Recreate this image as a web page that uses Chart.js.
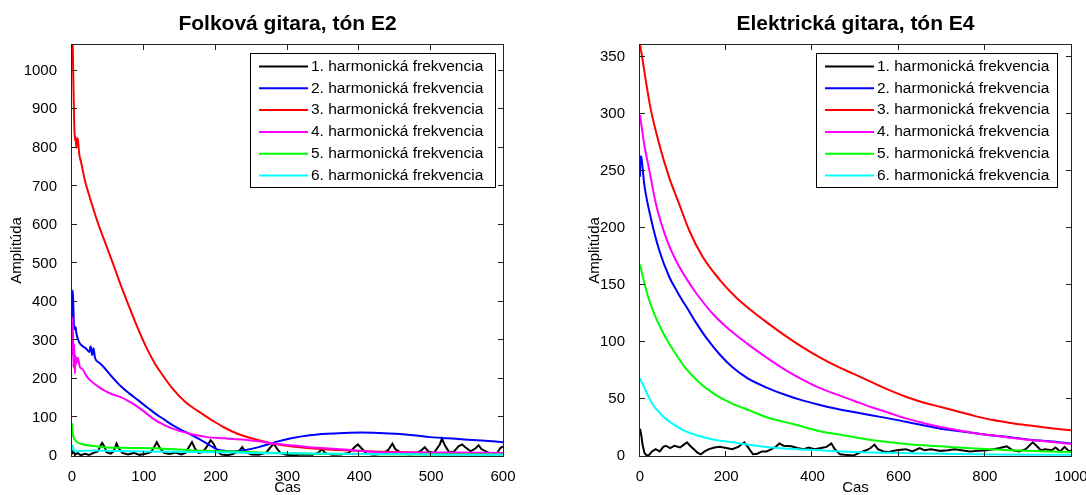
<!DOCTYPE html>
<html>
<head>
<meta charset="utf-8">
<script src="https://cdn.jsdelivr.net/npm/chart.js@4.4.1/dist/chart.umd.min.js"></script>
<style>
  html, body { margin: 0; padding: 0; background: #fff; }
  #wrap { position: relative; width: 1086px; height: 495px; }
  .panel { position: absolute; top: 0; height: 495px; }
  #p1 { left: 0; width: 560px; }
  #p2 { left: 560px; width: 526px; }
</style>
</head>
<body>
<div id="wrap">
  <div class="panel" id="p1"><canvas id="folk" width="560" height="495"></canvas></div>
  <div class="panel" id="p2"><canvas id="elec" width="526" height="495"></canvas></div>
</div>
<script>
// series labels and colours (shared by both panels)
const seriesLabels = [
  '1. harmonická frekvencia', '2. harmonická frekvencia', '3. harmonická frekvencia',
  '4. harmonická frekvencia', '5. harmonická frekvencia', '6. harmonická frekvencia'
];
const seriesColors = ['#000000', '#0000ff', '#ff0000', '#ff00ff', '#00ff00', '#00ffff'];

// Folková gitara, tón E2  -- [time, amplitude] pairs
const folkH1 = [[0,5],[2,15],[4,3],[8,8],[12,2],[18,6],[24,3],[30,8],[36,12],[40,28],[42,34],[45,25],[48,10],[54,6],[58,12],[62,32],[65,20],[70,8],[78,4],[86,8],[94,3],[102,6],[110,10],[115,25],[118,36],[122,22],[128,8],[136,5],[144,9],[152,4],[158,8],[163,24],[167,36],[171,20],[176,8],[182,10],[188,25],[193,41],[197,32],[202,12],[208,4],[216,2],[224,5],[232,12],[237,23],[242,10],[250,4],[260,3],[270,8],[276,22],[281,32],[285,20],[290,8],[298,3],[310,2],[320,4],[335,3],[344,10],[348,19],[352,8],[362,3],[375,4],[385,8],[394,24],[398,30],[402,22],[410,6],[420,3],[432,6],[440,15],[446,32],[450,18],[458,8],[468,4],[478,6],[486,14],[491,23],[496,12],[504,8],[512,30],[515,45],[519,28],[525,10],[532,12],[538,25],[543,30],[548,22],[555,12],[562,20],[566,28],[570,18],[578,10],[586,5],[592,8],[596,20],[600,25]];
const folkH2 = [[0,300],[1,430],[2,380],[3,330],[5,335],[6,320],[8,305],[11,292],[15,285],[20,278],[24,270],[26,285],[28,262],[30,280],[32,255],[38,242],[44,231],[55,207],[68,181],[80,162],[92,145],[104,127],[116,110],[128,95],[140,80],[152,68],[164,57],[176,45],[188,32],[195,24],[202,17],[214,13],[226,12],[240,15],[260,23],[283,36],[305,46],[331,54],[355,58],[379,60],[403,61],[427,60],[451,58],[475,54],[499,49],[523,46],[546,43],[570,40],[600,36]];
const folkH3 = [[0,1100],[1,1067],[2,960],[3,870],[4,820],[5,830],[6,800],[8,825],[10,785],[13,760],[18,715],[25,670],[30,640],[37,600],[47,550],[57,500],[67,448],[78,395],[92,330],[104,280],[116,238],[128,205],[140,175],[159,138],[175,117],[188,101],[200,87],[212,74],[224,63],[236,54],[260,41],[283,31],[310,24],[331,20],[355,17],[379,15],[417,12],[460,10],[500,8],[550,6],[600,5]];
const folkH4 = [[0,260],[1,361],[2,230],[3,290],[4,214],[5,260],[6,240],[8,255],[11,231],[15,225],[20,208],[25,197],[35,182],[44,171],[55,161],[68,153],[80,141],[92,127],[104,110],[116,93],[128,81],[140,71],[152,64],[164,58],[176,53],[188,49],[212,46],[236,43],[260,38],[283,32],[310,27],[331,23],[355,20],[379,17],[403,13],[427,10],[475,9],[523,9],[600,8]];
const folkH5 = [[0,85],[1,60],[2,50],[4,42],[8,35],[16,30],[30,26],[44,23],[80,21],[116,20],[164,15],[200,13],[236,11],[280,8],[331,6],[400,5],[500,4],[600,4]];
const folkH6 = [[0,15],[1,28],[2,18],[4,12],[10,13],[30,14],[60,13],[100,12],[150,11],[200,10],[250,8],[300,7],[400,5],[500,4],[600,3]];

// Elektrická gitara, tón E4
const elecH1 = [[0,24],[3,18],[6,10],[10,3],[14,1],[20,0.5],[28,4],[36,6],[46,4],[54,8],[60,9],[70,7],[80,9],[93,7.5],[102,10],[109,12],[116,9],[125,6],[133,3],[141,1.5],[150,4],[160,6],[173,7.5],[185,8],[200,7],[214,6],[228,8],[242,12],[250,8],[262,1.5],[272,2],[283,4],[294,4],[305,6],[315,8],[323,11],[333,9],[351,8.5],[365,7],[380,6],[391,7.5],[405,6],[420,7],[433,8],[444,11],[452,6],[464,1.5],[475,1],[496,0.5],[510,3],[525,5],[535,7],[544,10],[552,6],[565,4],[577,3.6],[595,5],[617,6],[632,4],[649,7],[660,5],[675,6],[698,4.5],[715,5],[730,6],[746,5],[765,4],[786,4.5],[805,5],[820,6],[835,7],[851,8.5],[865,5],[880,4],[895,6],[911,12],[920,9],[930,5],[940,6],[955,5],[964,7.5],[975,4],[985,8],[996,4],[1000,5]];
const elecH2 = [[0,245],[1,263],[3,262],[10,238],[25,209],[45,180],[68,157],[85,145],[99,136],[109,130],[130,117],[157,102],[185,89],[214,78],[250,68],[294,60],[335,54],[375,49],[415,45],[456,41.5],[496,38.5],[536,35.7],[577,33],[617,30],[657,27],[698,24],[738,22],[778,20],[819,18],[859,16.5],[900,14.5],[950,13],[1000,11]];
const elecH3 = [[0,361],[5,350],[14,328],[25,304],[45,273],[68,244],[91,221],[114,198],[145,175],[184,155],[223,139],[254,129],[295,117],[335,106],[375,96],[415,87],[455,79],[496,72],[536,65],[577,58],[617,52],[657,47],[698,43],[738,39],[778,35],[819,31.5],[859,29],[899,27],[940,25],[1000,22.5]];
const elecH4 = [[0,299],[10,273],[22,250],[37,221],[60,192],[84,171],[107,156],[130,143],[173,123],[210,110],[254,97],[295,86],[335,76],[375,67.5],[415,60],[456,54],[496,48.5],[536,43],[577,38],[617,33],[657,29],[698,25.5],[738,22.5],[778,20],[819,18],[859,16],[899,14.3],[950,12.5],[1000,10.5]];
const elecH5 = [[0,168],[10,152],[22,136],[36,122],[55,107],[77,93],[104,78],[133,66],[170,55],[214,46],[254,40],[294,34],[355,28],[415,22],[475,18],[536,14],[596,11.5],[657,9.4],[717,8],[778,6.5],[860,5],[930,4.2],[1000,3.5]];
const elecH6 = [[0,68],[10,60],[28,46],[50,36],[77,28],[104,22],[133,18],[170,14.5],[214,12],[270,9],[335,6.5],[415,5],[496,3.6],[577,2.8],[657,2.2],[780,1.6],[900,1.2],[1000,1]];

const folkSeries = [folkH1, folkH2, folkH3, folkH4, folkH5, folkH6];
const elecSeries = [elecH1, elecH2, elecH3, elecH4, elecH5, elecH6];

const FONT = '"Liberation Sans", Arial, Helvetica, sans-serif';
Chart.defaults.font.family = FONT;
Chart.defaults.color = '#000';

// panel title centred over the plot area
const panelTitle = {
  id: 'panelTitle',
  afterDraw(chart, args, opts) {
    const {ctx, chartArea} = chart;
    ctx.save();
    ctx.font = 'bold 21px ' + FONT;
    ctx.fillStyle = '#000';
    ctx.textAlign = 'center';
    ctx.textBaseline = 'middle';
    ctx.fillText(opts.text, (chartArea.left + chartArea.right) / 2, 24);
    ctx.restore();
  }
};

// box around the axes with inward ticks on all four sides
const frameTicks = {
  id: 'frameTicks',
  afterDatasetsDraw(chart) {
    const {ctx, chartArea: {left, right, top, bottom}, scales: {x, y}} = chart;
    const len = 5;
    ctx.save();
    ctx.strokeStyle = '#222';
    ctx.lineWidth = 1;
    ctx.strokeRect(left - 0.5, top - 0.5, right - left + 1, bottom - top + 1);
    ctx.beginPath();
    x.ticks.forEach(t => {
      const px = Math.round(x.getPixelForValue(t.value)) - 0.5;
      if (t.value === x.min || t.value === x.max) return;
      ctx.moveTo(px, bottom); ctx.lineTo(px, bottom - len);
      ctx.moveTo(px, top); ctx.lineTo(px, top + len);
    });
    y.ticks.forEach(t => {
      const py = Math.round(y.getPixelForValue(t.value)) - 0.5;
      if (t.value === y.min) return;
      ctx.moveTo(left, py); ctx.lineTo(left + len, py);
      ctx.moveTo(right, py); ctx.lineTo(right - len, py);
    });
    ctx.stroke();
    ctx.restore();
  }
};

// legend box inside the top-right corner of the axes
const boxLegend = {
  id: 'boxLegend',
  afterDatasetsDraw(chart, args, opts) {
    const {ctx, chartArea} = chart;
    const w = opts.width, h = 134;
    const x0 = Math.round(chartArea.right - opts.right - w), y0 = Math.round(chartArea.top + 8);
    ctx.save();
    ctx.fillStyle = '#fff';
    ctx.fillRect(x0, y0, w, h);
    ctx.strokeStyle = '#000';
    ctx.lineWidth = 1;
    ctx.strokeRect(x0 + 0.5, y0 + 0.5, w, h);
    ctx.font = '15.5px ' + FONT;
    ctx.textBaseline = 'middle';
    chart.data.datasets.forEach((ds, i) => {
      const yy = y0 + 13.5 + i * 21.8;
      ctx.strokeStyle = ds.borderColor;
      ctx.lineWidth = 2;
      ctx.beginPath();
      ctx.moveTo(x0 + 9, yy);
      ctx.lineTo(x0 + 58, yy);
      ctx.stroke();
      ctx.fillStyle = '#000';
      ctx.fillText(ds.label, x0 + 61, yy);
    });
    ctx.restore();
  }
};

function makeChart(id, title, series, cfg) {
  const datasets = series.map((pts, i) => ({
    label: seriesLabels[i],
    data: pts,
    borderColor: seriesColors[i],
    backgroundColor: seriesColors[i],
    borderWidth: 2,
    pointRadius: 0,
    fill: false,
    order: 6 - i,
    tension: i === 0 ? 0 : 0.4,
    cubicInterpolationMode: i === 0 ? 'default' : 'monotone'
  }));
  return new Chart(document.getElementById(id), {
    type: 'line',
    data: { datasets },
    options: {
      responsive: false,
      animation: false,
      parsing: { xAxisKey: 0, yAxisKey: 1 },
      layout: { padding: { left: 0, right: cfg.rightPad, top: 45, bottom: 0 } },
      plugins: {
        legend: { display: false },
        tooltip: { enabled: false },
        panelTitle: { text: title },
        boxLegend: { width: cfg.legendWidth, right: cfg.legendRight }
      },
      scales: {
        x: {
          type: 'linear',
          min: 0, max: cfg.xMax,
          grid: { display: false },
          border: { display: false },
          ticks: { stepSize: cfg.xStep, autoSkip: false, maxRotation: 0, padding: 4, font: { size: 15 }, color: '#000',
                   callback: v => String(v) },
          title: { display: true, text: 'Cas', font: { size: 15, lineHeight: 1 }, padding: { top: 0, bottom: 0 }, color: '#000' },
          afterFit: s => { s.height = 39; s.paddingLeft = 0; s.paddingRight = 0; }
        },
        y: {
          type: 'linear',
          min: 0, max: cfg.yMax,
          grid: { display: false },
          border: { display: false },
          ticks: { stepSize: cfg.yStep, includeBounds: false, padding: 7, font: { size: 15 }, color: '#000',
                   callback: v => String(v) },
          title: { display: true, text: 'Amplitúda', font: { size: 15, lineHeight: 1 }, padding: { top: cfg.yTitlePad, bottom: 0 }, color: '#000' },
          afterFit: s => { s.width = cfg.yWidth; s.paddingTop = 0; s.paddingBottom = 0; }
        }
      }
    },
    plugins: [panelTitle, frameTicks, boxLegend]
  });
}

makeChart('folk', 'Folková gitara, tón E2', folkSeries,
  { xMax: 600, xStep: 100, yMax: 1067, yStep: 100, yWidth: 72, rightPad: 57, yTitlePad: 9.5, legendWidth: 245, legendRight: 8 });
makeChart('elec', 'Elektrická gitara, tón E4', elecSeries,
  { xMax: 1000, xStep: 200, yMax: 360.5, yStep: 50, yWidth: 80, rightPad: 15, yTitlePad: 27.5, legendWidth: 241, legendRight: 14 });
</script>
</body>
</html>
